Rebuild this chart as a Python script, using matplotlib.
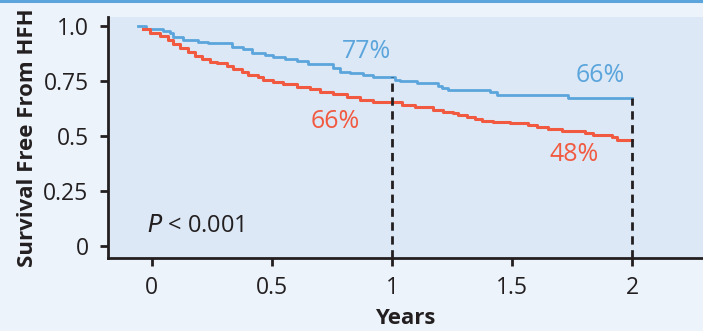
import numpy as np
import matplotlib
matplotlib.use("Agg")
import matplotlib.pyplot as plt
from matplotlib.lines import Line2D

# Kaplan-Meier step points (years, survival)
blue_t = [-0.058, -0.025, 0.046, 0.075, 0.088, 0.129, 0.192, 0.233, 0.333, 0.379,
          0.417, 0.471, 0.504, 0.554, 0.604, 0.65, 0.754, 0.783, 0.825, 0.879,
          0.921, 1.013, 1.033, 1.104, 1.192, 1.208, 1.233, 1.408, 1.438, 1.733, 2.0]
blue_s = [1.0, 0.985, 0.976, 0.968, 0.949, 0.936, 0.927, 0.921, 0.903, 0.894,
          0.879, 0.868, 0.86, 0.85, 0.841, 0.827, 0.808, 0.793, 0.785, 0.777,
          0.767, 0.755, 0.75, 0.74, 0.729, 0.72, 0.71, 0.699, 0.688, 0.673, 0.673]

red_t = [-0.038, -0.008, 0.033, 0.067, 0.088, 0.117, 0.15, 0.179, 0.208, 0.242,
         0.271, 0.313, 0.338, 0.375, 0.4, 0.442, 0.463, 0.504, 0.546, 0.604,
         0.658, 0.7, 0.754, 0.813, 0.867, 0.921, 1.004, 1.042, 1.096, 1.171,
         1.213, 1.254, 1.275, 1.313, 1.346, 1.375, 1.421, 1.492, 1.567, 1.604,
         1.65, 1.708, 1.804, 1.838, 1.917, 1.938, 2.0]
red_s = [0.985, 0.97, 0.955, 0.936, 0.918, 0.899, 0.883, 0.864, 0.85, 0.838,
         0.83, 0.818, 0.805, 0.793, 0.777, 0.767, 0.755, 0.747, 0.735, 0.724,
         0.712, 0.699, 0.69, 0.676, 0.664, 0.656, 0.653, 0.64, 0.633, 0.618,
         0.609, 0.603, 0.595, 0.588, 0.577, 0.57, 0.565, 0.559, 0.55, 0.54,
         0.53, 0.523, 0.512, 0.503, 0.497, 0.482, 0.482]

x_ticks = [0, 0.5, 1, 1.5, 2]
x_labels = ["0", "0.5", "1", "1.5", "2"]
y_ticks = [0, 0.25, 0.5, 0.75, 1.0]
y_labels = ["0", "0.25", "0.5", "0.75", "1.0"]

# landmark survival at 1 and 2 years
marks_t = [1, 2]
marks_s = [0.767, 0.673]

BLUE = "#5ba5dc"
RED = "#f15a40"
DARK = "#231f20"

plt.rcParams["font.family"] = ["Open Sans", "DejaVu Sans"]

fig = plt.figure(figsize=(7.03, 3.31), dpi=100, facecolor="#ecf3fb")
ax = fig.add_axes([108 / 703, 73 / 331, 595 / 703, 241 / 331])
ax.set_facecolor("#dce8f5")

ax.step(blue_t, blue_s, where="post", color=BLUE, lw=2.0, zorder=3)
ax.step(red_t, red_s, where="post", color=RED, lw=2.2, zorder=3)

for t, s in zip(marks_t, marks_s):
    ax.plot([t, t], [-0.055, s], color=DARK, lw=2.0, dashes=(3.0, 2.0), zorder=4)

pct = dict(fontsize=18, ha="center", va="center", fontweight="medium")
ax.text(0.892, 0.886, "77%", color=BLUE, **pct)
ax.text(0.7625, 0.568, "66%", color=RED, **pct)
ax.text(1.867, 0.777, "66%", color=BLUE, **pct)
ax.text(1.758, 0.414, "48%", color=RED, **pct)
ax.text(-0.021, 0.09, "$\\mathit{P}$ < 0.001", color=DARK, fontsize=17,
        ha="left", va="center", fontweight="medium")

ax.set_xlim(-0.183, 2.296)
ax.set_ylim(-0.055, 1.041)
ax.set_xticks(x_ticks)
ax.set_xticklabels(x_labels, fontweight="medium")
ax.set_yticks(y_ticks)
ax.set_yticklabels(y_labels, fontweight="medium")
ax.tick_params(direction="out", length=6, width=2.0, color=DARK,
               labelsize=16.5, labelcolor=DARK)
ax.tick_params(axis="x", pad=7)
ax.tick_params(axis="y", pad=8)

for side in ["top", "right"]:
    ax.spines[side].set_visible(False)
for side in ["left", "bottom"]:
    ax.spines[side].set_color(DARK)
    ax.spines[side].set_linewidth(2.0)

ax.set_xlabel("Years", fontsize=16, fontweight="bold", color=DARK, labelpad=6)
ax.set_ylabel("Survival Free From HFH", fontsize=16, fontweight="bold",
              color=DARK, labelpad=4)

# thin blue rule along the top edge
fig.add_artist(Line2D([0, 1], [0.996, 0.996], transform=fig.transFigure,
                      color=BLUE, lw=2.2))

fig.savefig("out.png", dpi=100, facecolor=fig.get_facecolor())
